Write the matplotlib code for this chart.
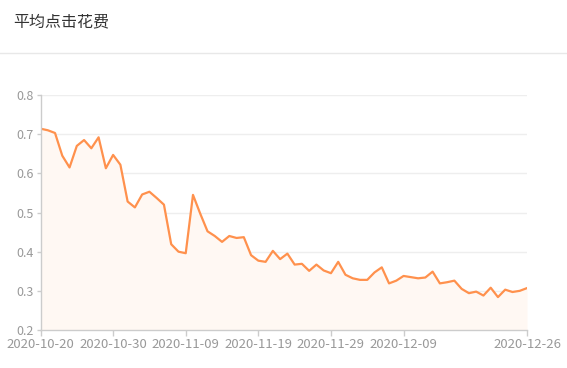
import matplotlib

matplotlib.use("Agg")
import matplotlib.pyplot as plt
import pandas as pd

plt.rcParams["font.family"] = ["Noto Sans CJK SC", "DejaVu Sans"]

# 日期类目（逐日）
dates = pd.date_range("2020-10-20", "2020-12-26", freq="D").strftime("%Y-%m-%d").tolist()

# 平均点击花费
cpc = [
    0.714, 0.710, 0.703, 0.645, 0.615, 0.670, 0.685, 0.664, 0.692, 0.613,
    0.647, 0.622, 0.528, 0.513, 0.546, 0.553, 0.537, 0.520, 0.419, 0.400,
    0.396, 0.545, 0.497, 0.452, 0.440, 0.425, 0.440, 0.435, 0.437, 0.391,
    0.377, 0.374, 0.402, 0.381, 0.395, 0.367, 0.369, 0.351, 0.367, 0.352,
    0.345, 0.374, 0.341, 0.332, 0.328, 0.328, 0.347, 0.360, 0.319, 0.326,
    0.338, 0.335, 0.332, 0.334, 0.349, 0.319, 0.322, 0.326, 0.305, 0.294,
    0.298, 0.288, 0.308, 0.284, 0.303, 0.297, 0.300, 0.307,
]

tick_idx = [0, 10, 20, 30, 40, 50, len(dates) - 1]
y_ticks = [0.2, 0.3, 0.4, 0.5, 0.6, 0.7, 0.8]

line_color = "#ff914d"
grid_color = "#eeeeee"
axis_color = "#cccccc"
label_color = "#999999"

fig = plt.figure(figsize=(5.67, 3.68), dpi=100)
fig.text(13 / 567, 1 - 22 / 368, "平均点击花费", fontsize=11.5, color="#333333",
         va="center", ha="left")
fig.add_artist(plt.Line2D([0, 1], [1 - 52.5 / 368] * 2, color="#e8e8e8", linewidth=1))

ax = fig.add_axes([40.5 / 567, 1 - 330 / 368, (527 - 40.5) / 567, (330 - 95) / 368])
x = list(range(len(dates)))
ax.fill_between(x, cpc, 0.2, color="#fff8f3", linewidth=0)
ax.plot(x, cpc, color=line_color, linewidth=1.6, solid_joinstyle="round")

ax.set_xlim(0, len(dates) - 1)
ax.set_ylim(0.2, 0.8)
ax.set_yticks(y_ticks)
ax.set_yticklabels([f"{v:.1f}" for v in y_ticks])
ax.set_xticks(tick_idx)
ax.set_xticklabels([dates[i] for i in tick_idx])

ax.grid(axis="y", color=grid_color, linewidth=1)
ax.set_axisbelow(True)
for side in ("top", "right"):
    ax.spines[side].set_visible(False)
for side in ("left", "bottom"):
    ax.spines[side].set_color(axis_color)
    ax.spines[side].set_linewidth(1)
ax.tick_params(axis="both", colors=axis_color, labelcolor=label_color,
               length=4, width=1, pad=2)
ax.tick_params(axis="x", labelsize=9.5)
ax.tick_params(axis="y", length=3, labelsize=9)

fig.savefig("out.png")
plt.close(fig)
